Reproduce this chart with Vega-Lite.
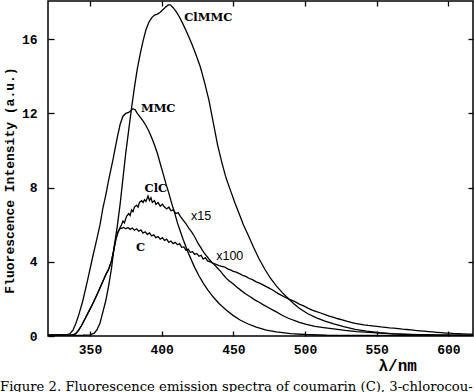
{
"$schema": "https://vega.github.io/schema/vega-lite/v6.json",
"width": 425, "height": 335,
"autosize": "none",
"padding": {"left": 48, "top": 1, "right": 1, "bottom": 56},
"background": "white",
"config": {"view": {"stroke": "black", "strokeWidth": 1.5}},
"title": {"text": "Figure 2.  Fluorescence emission spectra of coumarin (C), 3-chlorocou-", "orient": "bottom", "anchor": "start", "frame": "group", "dx": -48, "offset": 18, "font": "DejaVu Serif", "fontSize": 13.2, "fontWeight": "normal", "color": "black", "baseline": "alphabetic"},
"datasets": {
"curves": [
{"s":"MMC","x":320,"y":0.06},{"s":"MMC","x":325,"y":0.05},{"s":"MMC","x":330,"y":0.06},{"s":"MMC","x":334,"y":0.07},{"s":"MMC","x":336,"y":0.12},{"s":"MMC","x":338,"y":0.3},{"s":"MMC","x":340,"y":0.65},{"s":"MMC","x":342,"y":1.1},{"s":"MMC","x":345,"y":1.9},{"s":"MMC","x":348,"y":2.9},{"s":"MMC","x":352,"y":4.3},{"s":"MMC","x":355,"y":5.3},{"s":"MMC","x":357,"y":6.0},{"s":"MMC","x":359,"y":6.9},{"s":"MMC","x":361,"y":7.6},{"s":"MMC","x":363,"y":8.4},{"s":"MMC","x":366,"y":9.5},{"s":"MMC","x":369,"y":10.7},{"s":"MMC","x":371,"y":11.4},{"s":"MMC","x":373,"y":11.85},{"s":"MMC","x":375,"y":12.0},{"s":"MMC","x":377,"y":12.05},{"s":"MMC","x":378.5,"y":12.15},{"s":"MMC","x":380,"y":12.25},{"s":"MMC","x":381.5,"y":12.2},{"s":"MMC","x":383,"y":12.0},{"s":"MMC","x":385,"y":11.8},{"s":"MMC","x":387,"y":11.6},{"s":"MMC","x":389,"y":11.35},{"s":"MMC","x":391,"y":11.05},{"s":"MMC","x":393,"y":10.7},{"s":"MMC","x":395,"y":10.3},{"s":"MMC","x":397,"y":9.85},{"s":"MMC","x":399,"y":9.3},{"s":"MMC","x":401,"y":8.75},{"s":"MMC","x":403,"y":8.2},{"s":"MMC","x":405,"y":7.7},{"s":"MMC","x":407,"y":7.15},{"s":"MMC","x":409,"y":6.65},{"s":"MMC","x":411,"y":6.1},{"s":"MMC","x":413,"y":5.65},{"s":"MMC","x":415,"y":5.2},{"s":"MMC","x":417,"y":4.8},{"s":"MMC","x":419,"y":4.4},{"s":"MMC","x":421,"y":4.05},{"s":"MMC","x":423,"y":3.7},{"s":"MMC","x":426,"y":3.25},{"s":"MMC","x":429,"y":2.85},{"s":"MMC","x":432,"y":2.5},{"s":"MMC","x":436,"y":2.1},{"s":"MMC","x":440,"y":1.75},{"s":"MMC","x":445,"y":1.4},{"s":"MMC","x":450,"y":1.1},{"s":"MMC","x":455,"y":0.85},{"s":"MMC","x":460,"y":0.66},{"s":"MMC","x":466,"y":0.48},{"s":"MMC","x":473,"y":0.32},{"s":"MMC","x":480,"y":0.22},{"s":"MMC","x":490,"y":0.13},{"s":"MMC","x":500,"y":0.08},{"s":"MMC","x":515,"y":0.04},{"s":"MMC","x":540,"y":0.03},{"s":"MMC","x":580,"y":0.02},{"s":"MMC","x":617,"y":0.02},
{"s":"ClMMC","x":320,"y":0.04},{"s":"ClMMC","x":335,"y":0.03},{"s":"ClMMC","x":345,"y":0.04},{"s":"ClMMC","x":350,"y":0.06},{"s":"ClMMC","x":353,"y":0.15},{"s":"ClMMC","x":355,"y":0.35},{"s":"ClMMC","x":357,"y":0.7},{"s":"ClMMC","x":359,"y":1.3},{"s":"ClMMC","x":361,"y":1.9},{"s":"ClMMC","x":363,"y":2.7},{"s":"ClMMC","x":365,"y":3.65},{"s":"ClMMC","x":367,"y":4.9},{"s":"ClMMC","x":369,"y":5.9},{"s":"ClMMC","x":371,"y":7.1},{"s":"ClMMC","x":373,"y":8.5},{"s":"ClMMC","x":375,"y":9.9},{"s":"ClMMC","x":377,"y":11.1},{"s":"ClMMC","x":379,"y":12.3},{"s":"ClMMC","x":381,"y":13.4},{"s":"ClMMC","x":383,"y":14.4},{"s":"ClMMC","x":385,"y":15.2},{"s":"ClMMC","x":387,"y":15.9},{"s":"ClMMC","x":389,"y":16.5},{"s":"ClMMC","x":391,"y":16.9},{"s":"ClMMC","x":393,"y":17.15},{"s":"ClMMC","x":395,"y":17.3},{"s":"ClMMC","x":397,"y":17.35},{"s":"ClMMC","x":399,"y":17.45},{"s":"ClMMC","x":401,"y":17.6},{"s":"ClMMC","x":403,"y":17.75},{"s":"ClMMC","x":404.6,"y":17.85},{"s":"ClMMC","x":406,"y":17.85},{"s":"ClMMC","x":408,"y":17.7},{"s":"ClMMC","x":410,"y":17.5},{"s":"ClMMC","x":412,"y":17.25},{"s":"ClMMC","x":415,"y":16.8},{"s":"ClMMC","x":418,"y":16.3},{"s":"ClMMC","x":421,"y":15.75},{"s":"ClMMC","x":424,"y":15.15},{"s":"ClMMC","x":427,"y":14.5},{"s":"ClMMC","x":430,"y":13.65},{"s":"ClMMC","x":433,"y":12.7},{"s":"ClMMC","x":436,"y":11.5},{"s":"ClMMC","x":439,"y":10.3},{"s":"ClMMC","x":442,"y":9.35},{"s":"ClMMC","x":445,"y":8.5},{"s":"ClMMC","x":448,"y":7.85},{"s":"ClMMC","x":451,"y":7.2},{"s":"ClMMC","x":454,"y":6.6},{"s":"ClMMC","x":457,"y":6.0},{"s":"ClMMC","x":460,"y":5.5},{"s":"ClMMC","x":464,"y":4.8},{"s":"ClMMC","x":468,"y":4.15},{"s":"ClMMC","x":472,"y":3.6},{"s":"ClMMC","x":476,"y":3.1},{"s":"ClMMC","x":480,"y":2.7},{"s":"ClMMC","x":484,"y":2.35},{"s":"ClMMC","x":488,"y":2.05},{"s":"ClMMC","x":492,"y":1.75},{"s":"ClMMC","x":496,"y":1.5},{"s":"ClMMC","x":502,"y":1.2},{"s":"ClMMC","x":508,"y":0.98},{"s":"ClMMC","x":514,"y":0.8},{"s":"ClMMC","x":520,"y":0.65},{"s":"ClMMC","x":527,"y":0.5},{"s":"ClMMC","x":535,"y":0.36},{"s":"ClMMC","x":543,"y":0.26},{"s":"ClMMC","x":552,"y":0.18},{"s":"ClMMC","x":562,"y":0.11},{"s":"ClMMC","x":575,"y":0.07},{"s":"ClMMC","x":595,"y":0.04},{"s":"ClMMC","x":617,"y":0.03},
{"s":"ClC","x":320,"y":0.05},{"s":"ClC","x":330,"y":0.04},{"s":"ClC","x":338,"y":0.06},{"s":"ClC","x":340,"y":0.12},{"s":"ClC","x":342,"y":0.3},{"s":"ClC","x":344,"y":0.55},{"s":"ClC","x":347,"y":1.0},{"s":"ClC","x":350,"y":1.45},{"s":"ClC","x":352,"y":1.75},{"s":"ClC","x":355,"y":2.25},{"s":"ClC","x":357,"y":2.6},{"s":"ClC","x":359,"y":2.95},{"s":"ClC","x":361,"y":3.3},{"s":"ClC","x":363,"y":3.6},{"s":"ClC","x":365,"y":4.05},{"s":"ClC","x":366.5,"y":4.6},{"s":"ClC","x":368,"y":5.2},{"s":"ClC","x":369.5,"y":5.6},{"s":"ClC","x":371,"y":5.85},
{"s":"ClC","x":372,"y":6.0},{"s":"ClC","x":373,"y":6.2},{"s":"ClC","x":374,"y":6.1},{"s":"ClC","x":375.5,"y":6.45},{"s":"ClC","x":377,"y":6.6},{"s":"ClC","x":378,"y":6.5},{"s":"ClC","x":379,"y":6.8},{"s":"ClC","x":380,"y":6.7},{"s":"ClC","x":381,"y":6.95},{"s":"ClC","x":382.5,"y":7.05},{"s":"ClC","x":383.5,"y":6.95},{"s":"ClC","x":384.5,"y":7.2},{"s":"ClC","x":386,"y":7.3},{"s":"ClC","x":387,"y":7.2},{"s":"ClC","x":388,"y":7.35},{"s":"ClC","x":389,"y":7.25},{"s":"ClC","x":390.5,"y":7.55},{"s":"ClC","x":391.5,"y":7.3},{"s":"ClC","x":392.5,"y":7.45},{"s":"ClC","x":393.5,"y":7.2},{"s":"ClC","x":395,"y":7.3},{"s":"ClC","x":396,"y":7.1},{"s":"ClC","x":397.5,"y":7.2},{"s":"ClC","x":399,"y":7.0},{"s":"ClC","x":400.5,"y":7.1},{"s":"ClC","x":402,"y":6.95},{"s":"ClC","x":403.5,"y":6.85},{"s":"ClC","x":405,"y":6.95},{"s":"ClC","x":406.5,"y":6.75},{"s":"ClC","x":408,"y":6.8},{"s":"ClC","x":410,"y":6.6},{"s":"ClC","x":411.5,"y":6.65},{"s":"ClC","x":413,"y":6.45},{"s":"ClC","x":415,"y":6.25},{"s":"ClC","x":417,"y":6.05},{"s":"ClC","x":419,"y":5.8},{"s":"ClC","x":421,"y":5.6},{"s":"ClC","x":423,"y":5.35},{"s":"ClC","x":425,"y":5.05},{"s":"ClC","x":427,"y":4.8},{"s":"ClC","x":429,"y":4.55},{"s":"ClC","x":431,"y":4.35},{"s":"ClC","x":433,"y":4.15},{"s":"ClC","x":435,"y":3.98},{"s":"ClC","x":437,"y":3.82},{"s":"ClC","x":439,"y":3.65},{"s":"ClC","x":441,"y":3.5},{"s":"ClC","x":443,"y":3.3},{"s":"ClC","x":445,"y":3.12},{"s":"ClC","x":447,"y":2.98},{"s":"ClC","x":450,"y":2.8},{"s":"ClC","x":453,"y":2.6},{"s":"ClC","x":456,"y":2.42},{"s":"ClC","x":459,"y":2.25},{"s":"ClC","x":462,"y":2.1},{"s":"ClC","x":465,"y":1.95},{"s":"ClC","x":468,"y":1.82},{"s":"ClC","x":471,"y":1.68},{"s":"ClC","x":474,"y":1.55},{"s":"ClC","x":477,"y":1.42},{"s":"ClC","x":480,"y":1.3},{"s":"ClC","x":484,"y":1.12},{"s":"ClC","x":488,"y":0.97},{"s":"ClC","x":492,"y":0.85},{"s":"ClC","x":496,"y":0.74},{"s":"ClC","x":501,"y":0.63},{"s":"ClC","x":507,"y":0.52},{"s":"ClC","x":513,"y":0.45},{"s":"ClC","x":520,"y":0.38},{"s":"ClC","x":528,"y":0.3},{"s":"ClC","x":536,"y":0.24},{"s":"ClC","x":545,"y":0.19},{"s":"ClC","x":555,"y":0.14},{"s":"ClC","x":566,"y":0.1},{"s":"ClC","x":580,"y":0.07},{"s":"ClC","x":600,"y":0.05},{"s":"ClC","x":617,"y":0.04},
{"s":"C","x":320,"y":0.05},{"s":"C","x":330,"y":0.04},{"s":"C","x":338,"y":0.06},{"s":"C","x":340,"y":0.12},{"s":"C","x":342,"y":0.3},{"s":"C","x":344,"y":0.55},{"s":"C","x":347,"y":1.0},{"s":"C","x":350,"y":1.45},{"s":"C","x":352,"y":1.75},{"s":"C","x":355,"y":2.25},{"s":"C","x":357,"y":2.6},{"s":"C","x":359,"y":2.95},{"s":"C","x":361,"y":3.3},{"s":"C","x":363,"y":3.6},{"s":"C","x":365,"y":4.05},{"s":"C","x":366.5,"y":4.6},{"s":"C","x":368,"y":5.2},{"s":"C","x":369.5,"y":5.6},{"s":"C","x":371,"y":5.8},
{"s":"C","x":372,"y":5.8},{"s":"C","x":373.5,"y":5.85},{"s":"C","x":375,"y":5.78},{"s":"C","x":376.5,"y":5.85},{"s":"C","x":378,"y":5.75},{"s":"C","x":379.5,"y":5.82},{"s":"C","x":381,"y":5.7},{"s":"C","x":382.5,"y":5.78},{"s":"C","x":384,"y":5.65},{"s":"C","x":385.5,"y":5.72},{"s":"C","x":387,"y":5.55},{"s":"C","x":388.5,"y":5.62},{"s":"C","x":390,"y":5.48},{"s":"C","x":391.5,"y":5.56},{"s":"C","x":393,"y":5.4},{"s":"C","x":394.5,"y":5.45},{"s":"C","x":396,"y":5.3},{"s":"C","x":397.5,"y":5.36},{"s":"C","x":399,"y":5.22},{"s":"C","x":400.5,"y":5.3},{"s":"C","x":402,"y":5.15},{"s":"C","x":403.5,"y":5.22},{"s":"C","x":405,"y":5.05},{"s":"C","x":406.5,"y":5.12},{"s":"C","x":408,"y":4.98},{"s":"C","x":409.5,"y":5.05},{"s":"C","x":411,"y":4.92},{"s":"C","x":412.5,"y":4.98},{"s":"C","x":414,"y":4.78},{"s":"C","x":415.5,"y":4.8},{"s":"C","x":417,"y":4.62},{"s":"C","x":418.5,"y":4.68},{"s":"C","x":420,"y":4.5},{"s":"C","x":421.5,"y":4.55},{"s":"C","x":423,"y":4.4},{"s":"C","x":424.5,"y":4.45},{"s":"C","x":426,"y":4.3},{"s":"C","x":427.5,"y":4.35},{"s":"C","x":429,"y":4.15},{"s":"C","x":430.5,"y":4.22},{"s":"C","x":432,"y":4.05},{"s":"C","x":434,"y":4.0},{"s":"C","x":436,"y":3.92},{"s":"C","x":438,"y":3.86},{"s":"C","x":440,"y":3.8},{"s":"C","x":442,"y":3.76},{"s":"C","x":444,"y":3.72},{"s":"C","x":446,"y":3.62},{"s":"C","x":448,"y":3.56},{"s":"C","x":450,"y":3.48},{"s":"C","x":452,"y":3.44},{"s":"C","x":454.6,"y":3.35},{"s":"C","x":457,"y":3.25},{"s":"C","x":459,"y":3.2},{"s":"C","x":461,"y":3.1},{"s":"C","x":463,"y":3.05},{"s":"C","x":466,"y":2.92},{"s":"C","x":469,"y":2.82},{"s":"C","x":472,"y":2.7},{"s":"C","x":475,"y":2.58},{"s":"C","x":478,"y":2.45},{"s":"C","x":481,"y":2.3},{"s":"C","x":484,"y":2.18},{"s":"C","x":487,"y":2.05},{"s":"C","x":490,"y":1.95},{"s":"C","x":493,"y":1.85},{"s":"C","x":496,"y":1.72},{"s":"C","x":499,"y":1.62},{"s":"C","x":502,"y":1.5},{"s":"C","x":505,"y":1.4},{"s":"C","x":508,"y":1.32},{"s":"C","x":511,"y":1.24},{"s":"C","x":514,"y":1.15},{"s":"C","x":517,"y":1.07},{"s":"C","x":520,"y":1.0},{"s":"C","x":523,"y":0.93},{"s":"C","x":526,"y":0.87},{"s":"C","x":529,"y":0.8},{"s":"C","x":532,"y":0.74},{"s":"C","x":535,"y":0.68},{"s":"C","x":538,"y":0.64},{"s":"C","x":541,"y":0.6},{"s":"C","x":544,"y":0.57},{"s":"C","x":547,"y":0.55},{"s":"C","x":550,"y":0.52},{"s":"C","x":553,"y":0.49},{"s":"C","x":556,"y":0.47},{"s":"C","x":559,"y":0.44},{"s":"C","x":562,"y":0.42},{"s":"C","x":565,"y":0.4},{"s":"C","x":568,"y":0.37},{"s":"C","x":571,"y":0.35},{"s":"C","x":574,"y":0.33},{"s":"C","x":577,"y":0.3},{"s":"C","x":580,"y":0.28},{"s":"C","x":583,"y":0.26},{"s":"C","x":586,"y":0.24},{"s":"C","x":589,"y":0.22},{"s":"C","x":592,"y":0.2},{"s":"C","x":595,"y":0.18},{"s":"C","x":598,"y":0.16},{"s":"C","x":601,"y":0.15},{"s":"C","x":604,"y":0.13},{"s":"C","x":607,"y":0.12},{"s":"C","x":610,"y":0.11},{"s":"C","x":614,"y":0.1},{"s":"C","x":617,"y":0.1}
],
"labels": [
{"t":"ClMMC","x":432.5,"y":17.14,"g":"serif"},
{"t":"MMC","x":397.6,"y":12.24,"g":"serif"},
{"t":"ClC","x":396,"y":7.92,"g":"serif"},
{"t":"C","x":385.3,"y":4.72,"g":"serif"},
{"t":"x15","x":427.5,"y":6.47,"g":"sans"},
{"t":"x100","x":447.5,"y":4.29,"g":"sans"}
]
},
"resolve": {"axis": {"x": "independent", "y": "independent"}},
"layer": [
{"data": {"name": "curves"},
 "mark": {"type": "line", "color": "black", "strokeWidth": 1.3, "clip": true},
 "encoding": {
  "x": {"field": "x", "type": "quantitative", "scale": {"domain": [320.7, 617.2], "nice": false, "zero": false},
        "axis": {"values": [350,400,450,500,550,600], "tickSize": -5, "tickColor": "black", "tickWidth": 1.3, "domain": false, "grid": false,
                 "labelFont": "Liberation Mono", "labelFontWeight": "bold", "labelFontSize": 13, "labelColor": "black", "labelPadding": 12,
                 "title": "λ/nm", "titleFont": "Liberation Mono", "titleFontWeight": "bold", "titleFontSize": 16, "titleColor": "black",
                 "titleX": 330, "titleY": 34, "titleAlign": "left", "titleBaseline": "alphabetic", "titleAnchor": null}},
  "y": {"field": "y", "type": "quantitative", "scale": {"domain": [0, 18.06], "nice": false, "zero": true},
        "axis": {"values": [0,4,8,12,16], "tickSize": -6, "tickColor": "black", "tickWidth": 1.3, "domain": false, "grid": false,
                 "labelFont": "Liberation Mono", "labelFontWeight": "bold", "labelFontSize": 13, "labelColor": "black", "labelPadding": 17,
                 "title": "Fluorescence Intensity (a.u.)", "titleFont": "Liberation Mono", "titleFontWeight": "bold", "titleFontSize": 13, "titleColor": "black",
                 "titleX": -35, "titleY": 179, "titleAngle": 270, "titleAlign": "center", "titleBaseline": "alphabetic"}},
  "detail": {"field": "s"}
 }},
{"data": {"name": "labels"},
 "transform": [{"filter": "datum.g === 'serif'"}],
 "mark": {"type": "text", "font": "DejaVu Serif", "fontWeight": "bold", "fontSize": 11.5, "color": "black", "align": "center", "baseline": "middle"},
 "encoding": {
  "x": {"field": "x", "type": "quantitative", "axis": null},
  "y": {"field": "y", "type": "quantitative", "axis": null},
  "text": {"field": "t"}
 }},
{"data": {"name": "labels"},
 "transform": [{"filter": "datum.g === 'sans'"}],
 "mark": {"type": "text", "font": "Liberation Sans", "fontSize": 12.5, "color": "black", "align": "center", "baseline": "middle"},
 "encoding": {
  "x": {"field": "x", "type": "quantitative",
        "axis": {"orient": "top", "values": [350,400,450,500,550,600], "tickSize": -5, "tickColor": "black", "tickWidth": 1.3, "domain": false, "grid": false, "labels": false, "title": null}},
  "y": {"field": "y", "type": "quantitative",
        "axis": {"orient": "right", "values": [4,8,12,16], "tickSize": -5, "tickColor": "black", "tickWidth": 1.3, "domain": false, "grid": false, "labels": false, "title": null}},
  "text": {"field": "t"}
 }}
]
}
